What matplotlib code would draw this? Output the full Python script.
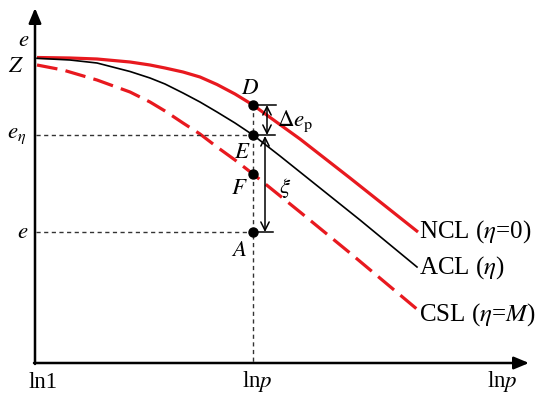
import matplotlib
matplotlib.use("Agg")
import matplotlib.pyplot as plt

plt.rcParams['font.family'] = ['Liberation Serif', 'DejaVu Serif']
plt.rcParams['mathtext.fontset'] = 'stix'

# ---- data (schematic, pixel-like units) ----
ncl_x = [37, 70, 97, 130, 150, 165, 183, 200, 217, 235, 253, 275, 300, 350, 418]
ncl_y = [57.5, 58, 59, 62, 65, 68, 72, 77, 84.5, 94, 105, 121, 139, 178, 232]
acl_x = [37, 70, 97, 130, 150, 165, 183, 200, 217, 235, 253, 280, 320, 360, 417]
acl_y = [58.3, 60, 63, 71.5, 78, 84, 93, 102, 112, 123, 135, 156, 188, 220, 267]
csl_x = [37, 63, 97, 130, 150, 165, 183, 200, 217, 235, 253, 300, 350, 418]
csl_y = [65, 70, 80, 92, 102, 111, 123, 134, 147, 160, 174, 212, 253, 310]

pt_names = ['D', 'E', 'F', 'A']
pt_x = [253, 253, 253, 253]
pt_y = [105, 135, 174, 232]

curve_labels = ['NCL ($\\eta$=0)', 'ACL ($\\eta$)', 'CSL ($\\eta$=$M$)']
y_labels = ['$e$', '$Z$', '$e_{\\eta}$', '$e$']
x_labels = ['ln1', 'ln$p$', 'ln$p$']

RED = '#e8191f'
FS = 16.5
FSC = 18

fig = plt.figure(figsize=(5.41, 3.98), dpi=100)
ax = fig.add_axes([0, 0, 1, 1])
ax.set_xlim(0, 541)
ax.set_ylim(398, 0)
ax.axis('off')

# axes with arrows
ax.annotate('', xy=(35, 8), xytext=(35, 364),
            arrowprops=dict(arrowstyle='-|>,head_length=0.6,head_width=0.25',
                            lw=1.8, color='black', mutation_scale=15,
                            shrinkA=0, shrinkB=0))
ax.annotate('', xy=(529, 363), xytext=(34, 363),
            arrowprops=dict(arrowstyle='-|>,head_length=0.6,head_width=0.25',
                            lw=1.8, color='black', mutation_scale=15,
                            shrinkA=0, shrinkB=0))

# curves
ax.plot(ncl_x, ncl_y, color=RED, lw=2.3, solid_capstyle='butt', solid_joinstyle='round')
ax.plot(acl_x, acl_y, color='black', lw=1.2, solid_joinstyle='round')
ax.plot(csl_x, csl_y, color=RED, lw=2.3, ls=(0, (6.5, 2.6)), dash_capstyle='butt')

# reference dashed lines
ref = dict(color='#333333', lw=1.0, ls=(0, (3, 2.5)))
ax.plot([36, pt_x[1]], [pt_y[1], pt_y[1]], **ref)
ax.plot([36, pt_x[3]], [pt_y[3], pt_y[3]], **ref)
ax.plot([pt_x[0], pt_x[0]], [pt_y[0], 362], **ref)

# short tick lines at D, E, A
ax.plot([pt_x[0], 276], [pt_y[0], pt_y[0]], color='black', lw=1.1)
ax.plot([pt_x[1], 275], [pt_y[1], pt_y[1]], color='black', lw=1.1)
ax.plot([pt_x[3], 273], [pt_y[3], pt_y[3]], color='black', lw=1.1)

# double arrows
dbl = dict(arrowstyle='<->,head_length=0.5,head_width=0.25', lw=1.1,
           color='black', mutation_scale=12, shrinkA=0, shrinkB=0)
ax.annotate('', xy=(267, pt_y[0]), xytext=(267, pt_y[1]), arrowprops=dbl)
ax.annotate('', xy=(265, pt_y[1] + 1), xytext=(265, pt_y[3]), arrowprops=dbl)

# points
ax.plot(pt_x, pt_y, 'o', color='black', ms=6.5, zorder=5)

# point labels
lab_pos = {'D': (250, 88), 'E': (242, 153), 'F': (239, 188), 'A': (239, 250)}
for n in pt_names:
    ax.text(*lab_pos[n], '$' + n + '$', fontsize=FS, ha='center', va='center')

ax.text(277, 121, '$\\Delta e_{\\rm p}$', fontsize=FS, ha='left', va='center')
ax.text(285, 188, '$\\xi$', fontsize=FS, ha='center', va='center')

# curve labels
ax.text(419, 232, curve_labels[0], fontsize=FSC, ha='left', va='center')
ax.text(419, 268, curve_labels[1], fontsize=FSC, ha='left', va='center')
ax.text(419, 315, curve_labels[2], fontsize=FSC, ha='left', va='center')

# y labels
ax.text(24, 41, y_labels[0], fontsize=FS, ha='center', va='center')
ax.text(16, 67, y_labels[1], fontsize=FS, ha='center', va='center')
ax.text(17, 136, y_labels[2], fontsize=FS, ha='center', va='center')
ax.text(23, 233, y_labels[3], fontsize=FS, ha='center', va='center')

# x labels
ax.text(43, 382, x_labels[0], fontsize=FS, ha='center', va='center')
ax.text(257, 382, x_labels[1], fontsize=FS, ha='center', va='center')
ax.text(502, 382, x_labels[2], fontsize=FS, ha='center', va='center')

fig.savefig('out.png', dpi=100)
